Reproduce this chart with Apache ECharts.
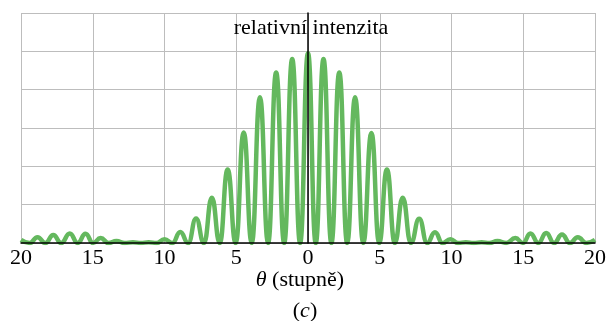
<!DOCTYPE html>
<html>
<head>
<meta charset="utf-8">
<script src="https://cdn.jsdelivr.net/npm/echarts@6/dist/echarts.min.js"></script>
<style>html,body{margin:0;padding:0;background:#fff}#c{width:609px;height:321px}</style>
</head>
<body>
<div id="c"></div>
<script>
// angles (degrees) of the read maxima and zeros of the curve
const angles = [
  -20, -19.4, -18.85, -18.3, -17.75, -17.2, -16.6, -16.05, -15.5, -14.98,
  -14.45, -13.9, -13.35, -12.78, -12.2, -11.65, -11.1, -10.55, -10.0, -9.45,
  -8.9, -8.35, -7.8, -7.25, -6.7, -6.15, -5.6, -5.04, -4.48, -3.92,
  -3.35, -2.78, -2.22, -1.66, -1.1, -0.55, 0, 0.54, 1.08, 1.63,
  2.18, 2.73, 3.28, 3.85, 4.42, 4.96, 5.5, 6.05, 6.6, 7.17,
  7.75, 8.3, 8.85, 9.38, 9.92, 10.46, 11.0, 11.55, 12.1, 12.65,
  13.2, 13.82, 14.45, 14.98, 15.5, 16.05, 16.6, 17.15, 17.7, 18.25,
  18.8, 19.4, 20
];
// relative intensity at those angles
const intensity = [
  0.08, 0, 0.15, 0, 0.21, 0, 0.25, 0, 0.24, 0,
  0.13, 0, 0.05, 0, 0.02, 0, 0.02, 0, 0.1, 0,
  0.29, 0, 0.64, 0, 1.18, 0, 1.92, 0, 2.88, 0,
  3.8, 0, 4.45, 0, 4.8, 0, 4.95, 0, 4.8, 0,
  4.45, 0, 3.8, 0, 2.87, 0, 1.92, 0, 1.18, 0,
  0.63, 0, 0.28, 0, 0.1, 0, 0.02, 0, 0.02, 0,
  0.05, 0, 0.13, 0, 0.25, 0, 0.26, 0, 0.22, 0,
  0.15, 0, 0.08
];
const xTicks = [-20, -15, -10, -5, 0, 5, 10, 15, 20];
const yTicks = [0, 1, 2, 3, 4, 5, 6];
const yLabel = 'relativní intenzita';
const xLabelSymbol = 'θ';
const xLabelText = ' (stupně)';
const panelLabel = 'c';

const serif = '"Liberation Serif", "DejaVu Serif", serif';
const chart = echarts.init(document.getElementById('c'), null, {renderer: 'canvas'});
const data = angles.map((a, i) => [a, intensity[i]]);

chart.setOption({
  animation: false,
  backgroundColor: '#fff',
  grid: {left: 21, right: 11, top: 13, height: 230, containLabel: false},
  xAxis: [
    {
      type: 'value', min: xTicks[0], max: xTicks[xTicks.length - 1], interval: 5,
      axisLine: {show: false}, axisTick: {show: false},
      axisLabel: {formatter: v => String(Math.abs(v)), fontFamily: serif, fontSize: 22, color: '#000', margin: 4},
      splitLine: {show: true, lineStyle: {color: '#bdbdbd', width: 1}}
    },
    {
      type: 'value', min: xTicks[0], max: xTicks[xTicks.length - 1], position: 'bottom',
      axisLine: {show: true, onZero: false, lineStyle: {color: '#000', width: 1.5}},
      axisTick: {show: false}, axisLabel: {show: false}, splitLine: {show: false}, z: 5
    }
  ],
  yAxis: [
    {
      type: 'value', min: yTicks[0], max: yTicks[yTicks.length - 1], interval: 1,
      axisLine: {show: false}, axisTick: {show: false}, axisLabel: {show: false},
      splitLine: {show: true, lineStyle: {color: '#bdbdbd', width: 1}}
    },
    {
      type: 'value', min: yTicks[0], max: yTicks[yTicks.length - 1],
      axisLine: {show: true, onZero: true, onZeroAxisIndex: 0, lineStyle: {color: '#000', width: 1.5}},
      axisTick: {show: false}, axisLabel: {show: false}, splitLine: {show: false}, z: 5
    }
  ],
  graphic: [
    {type: 'text', x: 311, y: 28, z: 10,
     style: {text: yLabel, font: '22px ' + serif, fill: '#000', textAlign: 'center', textVerticalAlign: 'middle'}},
    {type: 'text', x: 300, y: 280, z: 10,
     style: {text: '{i|' + xLabelSymbol + '}{n|' + xLabelText + '}', textAlign: 'center', textVerticalAlign: 'middle',
       rich: {i: {fontFamily: serif, fontSize: 22, fontStyle: 'italic', fill: '#000', color: '#000'},
              n: {fontFamily: serif, fontSize: 22, fill: '#000', color: '#000'}}}},
    {type: 'text', x: 305, y: 311, z: 10,
     style: {text: '{n|(}{i|' + panelLabel + '}{n|)}', textAlign: 'center', textVerticalAlign: 'middle',
       rich: {i: {fontFamily: serif, fontSize: 22, fontStyle: 'italic', fill: '#000', color: '#000'},
              n: {fontFamily: serif, fontSize: 22, fill: '#000', color: '#000'}}}}
  ],
  series: [{
    type: 'line', xAxisIndex: 0, yAxisIndex: 0, data: data,
    smooth: 0.5, smoothMonotone: 'x', showSymbol: false, symbol: 'none',
    lineStyle: {color: '#64b85e', width: 4.5}, z: 2
  }]
});
</script>
</body>
</html>
